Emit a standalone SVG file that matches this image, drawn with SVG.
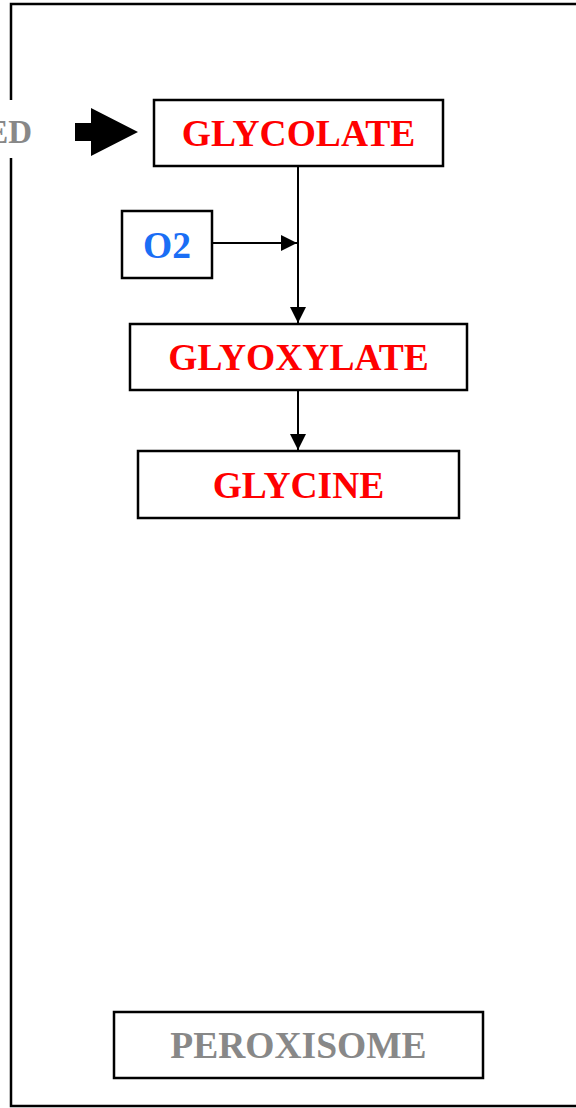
<svg xmlns="http://www.w3.org/2000/svg" width="576" height="1108" viewBox="0 0 576 1108">
<style>
.box{fill:#fff;stroke:#000;stroke-width:2.5}
.t{font-family:"Liberation Serif","Times New Roman",serif;font-weight:bold;font-size:37.5px;text-anchor:middle}
.red{fill:#ff0000}
.gray{fill:#888888}
.blue{fill:#1a6ef5}
.ln{stroke:#000;stroke-width:2;fill:none}
</style>
<defs>
<marker id="ah" viewBox="0 0 10 10" refX="10" refY="5" markerWidth="16" markerHeight="16" markerUnits="userSpaceOnUse" orient="auto">
<path d="M0,0 L10,5 L0,10 z" fill="#000"/>
</marker>
</defs>
<rect x="11" y="4" width="600" height="1102" fill="#fff" stroke="#000" stroke-width="2.5"/>
<g id="ed">
<rect x="0" y="100" width="40" height="58" fill="#fff"/>
<text x="32" y="143" class="t gray" style="font-size:33px;text-anchor:end">ED</text>
</g>
<g id="bigarrow">
<path d="M75,123 L91,123 L91,108 L138,132 L91,156 L91,141 L75,141 z" fill="#000"/>
</g>
<g id="connectors">
<line class="ln" x1="298" y1="166" x2="298" y2="323" marker-end="url(#ah)"/>
<line class="ln" x1="212" y1="243" x2="297" y2="243" marker-end="url(#ah)"/>
<line class="ln" x1="298" y1="390" x2="298" y2="450" marker-end="url(#ah)"/>
</g>
<g id="glycolate">
<rect class="box" x="154" y="100" width="289" height="66"/>
<text class="t red" x="298.5" y="146">GLYCOLATE</text>
</g>
<g id="o2">
<rect class="box" x="122" y="211" width="90" height="67"/>
<text class="t blue" x="167" y="258">O2</text>
</g>
<g id="glyoxylate">
<rect class="box" x="130" y="324" width="337" height="66"/>
<text class="t red" x="298.5" y="370">GLYOXYLATE</text>
</g>
<g id="glycine">
<rect class="box" x="138" y="451" width="321" height="67"/>
<text class="t red" x="298.5" y="498">GLYCINE</text>
</g>
<g id="peroxisome">
<rect class="box" x="114" y="1012" width="369" height="66"/>
<text class="t gray" x="298.5" y="1058">PEROXISOME</text>
</g>
</svg>
